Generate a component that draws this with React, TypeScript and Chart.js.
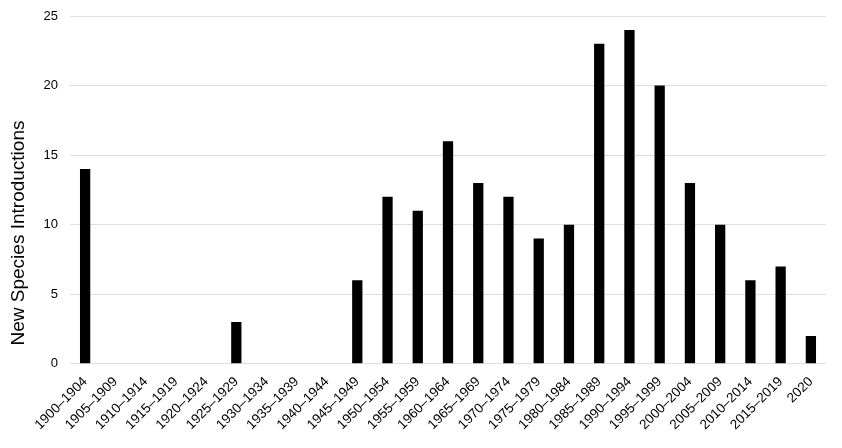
import React, { useEffect, useRef } from "react";
import { Chart, registerables } from "chart.js";

Chart.register(...registerables);

const categories = [
  "1900–1904", "1905–1909", "1910–1914", "1915–1919", "1920–1924",
  "1925–1929", "1930–1934", "1935–1939", "1940–1944", "1945–1949",
  "1950–1954", "1955–1959", "1960–1964", "1965–1969", "1970–1974",
  "1975–1979", "1980–1984", "1985–1989", "1990–1994", "1995–1999",
  "2000–2004", "2005–2009", "2010–2014", "2015–2019", "2020",
];
const introductions = [14, 0, 0, 0, 0, 3, 0, 0, 0, 6, 12, 11, 16, 13, 12, 9, 10, 23, 24, 20, 13, 10, 6, 7, 2];
const yTicks = [0, 5, 10, 15, 20, 25];
const yTitle = "New Species Introductions";

const FONT = "'Liberation Sans', Arial, Helvetica, sans-serif";

const yTitlePlugin = {
  id: "yTitlePlugin",
  afterDraw(chart: any) {
    const ctx = chart.ctx;
    ctx.save();
    ctx.translate(18.5, chart.height / 2 + 9);
    ctx.rotate(-Math.PI / 2);
    ctx.fillStyle = "#000";
    ctx.font = `19px ${FONT}`;
    ctx.textAlign = "center";
    ctx.textBaseline = "middle";
    ctx.fillText(yTitle, 0, 0);
    ctx.restore();
  },
};

export default function App() {
  const ref = useRef<HTMLCanvasElement | null>(null);
  useEffect(() => {
    if (!ref.current) return;
    const chart = new Chart(ref.current, {
      type: "bar",
      data: {
        labels: categories,
        datasets: [
          {
            label: yTitle,
            data: introductions,
            backgroundColor: "#000000",
            barPercentage: 0.68,
            categoryPercentage: 0.5,
          },
        ],
      },
      plugins: [yTitlePlugin],
      options: {
        animation: false,
        responsive: true,
        maintainAspectRatio: false,
        layout: { padding: { top: 16, right: 16, left: 0, bottom: 13 } },
        plugins: { legend: { display: false }, tooltip: { enabled: false } },
        scales: {
          x: {
            grid: { display: false },
            border: { display: false },
            ticks: {
              color: "#000",
              font: { family: FONT, size: 13.5 },
              maxRotation: 45,
              minRotation: 45,
              autoSkip: false,
              padding: 2,
            },
          },
          y: {
            min: 0,
            max: 25,
            afterBuildTicks: (axis: any) => {
              axis.ticks = yTicks.map((v) => ({ value: v }));
            },
            afterFit: (axis: any) => {
              axis.width = 70;
              axis.paddingTop = 0;
              axis.paddingBottom = 0;
            },
            grid: { color: "#dedede", lineWidth: 1, drawTicks: false },
            border: { display: false },
            ticks: { color: "#000", font: { family: FONT, size: 13 }, padding: 12 },
          },
        },
      },
    });
    return () => chart.destroy();
  }, []);
  return (
    <div style={{ position: "absolute", left: 0, top: 0, width: 842, height: 448 }}>
      <canvas ref={ref} />
    </div>
  );
}
